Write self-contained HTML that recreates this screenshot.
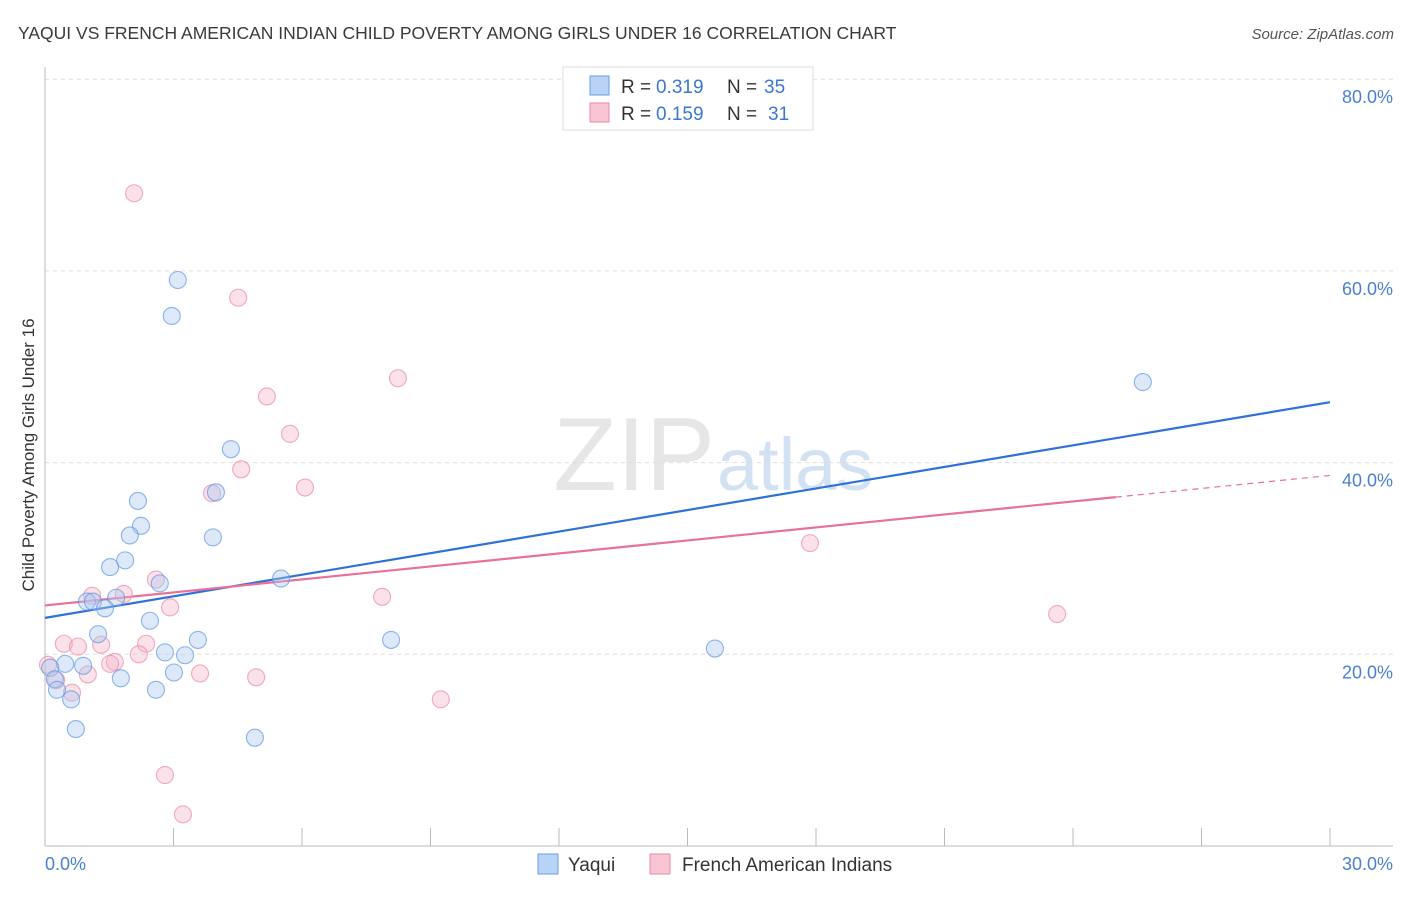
<!DOCTYPE html>
<html><head><meta charset="utf-8"><style>
body{margin:0;background:#fff;font-family:"Liberation Sans",sans-serif;}
svg text{font-family:"Liberation Sans",sans-serif;}
</style></head><body>
<svg id="chart" width="1406" height="892" viewBox="0 0 1406 892">
<text x="18" y="39" font-size="17.5" fill="#3a3a3a">YAQUI VS FRENCH AMERICAN INDIAN CHILD POVERTY AMONG GIRLS UNDER 16 CORRELATION CHART</text>
<text x="1394" y="39" font-size="15" fill="#555" font-style="italic" text-anchor="end">Source: ZipAtlas.com</text>
<text x="715" y="490" font-size="104" fill="#e6e6e6" text-anchor="end" font-family="Liberation Serif">ZIP</text>
<text x="717" y="490" font-size="74" fill="#d3e2f3">atlas</text>
<g id="grid"></g>
<g id="axes"></g>
<g id="lines"></g>
<g id="points"></g>
<text x="-455" y="34" transform="rotate(-90)" font-size="17" fill="#333" text-anchor="middle">Child Poverty Among Girls Under 16</text>
<text x="45" y="870" font-size="18" fill="#4a80d0">0.0%</text>
<text x="1393" y="870" font-size="18" fill="#4a80d0" text-anchor="end">30.0%</text>
<g>
<rect x="563" y="67" width="250" height="63" fill="#fff" stroke="#ddd"/>
<rect x="590" y="76" width="19" height="19" fill="#b8d3f5" stroke="#6a9ee0"/>
<rect x="590" y="103" width="19" height="19" fill="#f8c4d3" stroke="#e88aa5"/>
<text x="621" y="93" font-size="19" fill="#333">R = </text>
<text x="656" y="93" font-size="19" fill="#3a78d0">0.319</text>
<text x="727" y="93" font-size="19" fill="#333">N =</text>
<text x="764" y="93" font-size="19" fill="#3a78d0">35</text>
<text x="621" y="120" font-size="19" fill="#333">R = </text>
<text x="656" y="120" font-size="19" fill="#3a78d0">0.159</text>
<text x="727" y="120" font-size="19" fill="#333">N =</text>
<text x="768" y="120" font-size="19" fill="#3a78d0">31</text>
</g>
<g>
<rect x="538" y="854" width="20" height="20" fill="#b8d3f5" stroke="#6a9ee0"/>
<text x="568" y="871" font-size="19" fill="#333">Yaqui</text>
<rect x="650" y="854" width="20" height="20" fill="#f8c4d3" stroke="#e88aa5"/>
<text x="682" y="871" font-size="19" fill="#333">French American Indians</text>
</g>
</svg>
<script>
const yTicks=[20,40,60,80];
const yTickLabels=["20.0%","40.0%","60.0%","80.0%"];
const yaquiX=[3.10,2.96,25.63,4.34,3.99,2.17,2.24,1.98,3.92,1.87,1.52,2.68,5.51,0.98,1.12,1.66,1.40,2.45,1.24,3.57,2.80,3.27,15.64,8.08,0.47,0.89,3.01,1.77,0.12,0.23,0.28,0.61,2.59,0.72,4.90];
const yaquiY=[59.05,55.3,48.4,41.4,36.9,36.0,33.4,32.4,32.2,29.8,29.1,27.4,27.9,25.5,25.5,25.9,24.8,23.5,22.1,21.5,20.2,19.9,20.6,21.5,19.0,18.8,18.1,17.5,18.6,17.4,16.3,15.3,16.3,12.2,11.3];
const frenchX=[2.08,4.51,8.24,5.18,5.72,4.58,6.07,3.90,17.86,2.59,1.84,1.10,2.92,7.87,23.63,0.44,2.36,0.77,1.31,1.63,1.52,2.19,3.62,1.00,4.93,0.07,0.26,0.63,9.24,2.80,3.22];
const frenchY=[68.1,57.2,48.8,46.9,43.0,39.3,37.4,36.8,31.6,27.8,26.3,26.1,24.9,26.0,24.2,21.1,21.1,20.8,21.0,19.2,19.0,20.0,18.0,17.9,17.6,18.9,17.3,16.0,15.3,7.4,3.3];
const yaquiTrend=[23.8,0.75];
const frenchTrend=[25.1,0.452];
const frenchSolidEnd=25;
const NS="http://www.w3.org/2000/svg";
const X=v=>45+v/30*1285;
const Y=v=>846-v/20*191.7;
function mk(t,a,p){const e=document.createElementNS(NS,t);for(const k in a)e.setAttribute(k,a[k]);document.getElementById(p).appendChild(e);return e;}
yTicks.forEach((t,i)=>{
 const l=mk('line',{x1:45,x2:1393,y1:Y(t),y2:Y(t),stroke:'#ddd','stroke-dasharray':'4,4'},'grid');
 
 
 const tx=mk('text',{x:1393,y:Y(t)+24,'font-size':18,fill:'#4a80d0','text-anchor':'end'},'axes');
 tx.textContent=yTickLabels[i];
 
 
});
const ax=mk('line',{x1:45,x2:45,y1:67,y2:846,stroke:'#bbb'},'axes');


const bx=mk('line',{x1:45,x2:1393,y1:846,y2:846,stroke:'#bbb'},'axes');


for(let i=0;i<=10;i++){
 const t=mk('line',{x1:X(i*3),x2:X(i*3),y1:828,y2:846,stroke:'#bbb'},'axes');
 
 
}
function pts(xs,ys,fill,stroke,name){
 xs.forEach((x,i)=>{
  const c=mk('circle',{cx:X(x),cy:Y(ys[i]),r:8.5,fill:fill,'fill-opacity':0.4,stroke:stroke,'stroke-opacity':0.7,'stroke-width':1.1},'points');
  
  
 });
}
pts(frenchX,frenchY,'#f5b5c8','#e88aa5','french-point');
pts(yaquiX,yaquiY,'#a9c8f0','#5f95df','yaqui-point');
const bl=mk('line',{x1:X(0),y1:Y(yaquiTrend[0]),x2:X(30),y2:Y(yaquiTrend[0]+30*yaquiTrend[1]),stroke:'#2f72d6','stroke-width':2.2},'lines');


const pl=mk('line',{x1:X(0),y1:Y(frenchTrend[0]),x2:X(frenchSolidEnd),y2:Y(frenchTrend[0]+frenchSolidEnd*frenchTrend[1]),stroke:'#e8709a','stroke-width':2.2},'lines');


const pd=mk('line',{x1:X(frenchSolidEnd),y1:Y(frenchTrend[0]+frenchSolidEnd*frenchTrend[1]),x2:X(30),y2:Y(frenchTrend[0]+30*frenchTrend[1]),stroke:'#e8709a','stroke-width':1.2,'stroke-dasharray':'6,5'},'lines');


</script>
</body></html>
